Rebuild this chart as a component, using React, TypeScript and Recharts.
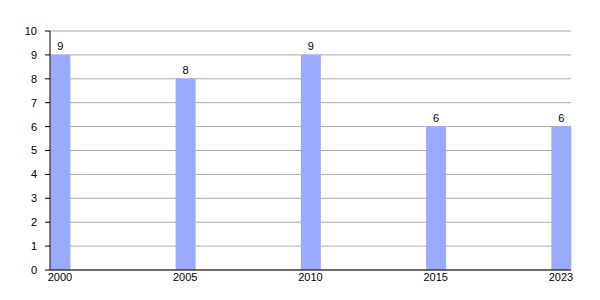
import { Bar, BarChart, CartesianGrid, LabelList, XAxis, YAxis } from "recharts";

const years = ["2000", "2005", "2010", "2015", "2023"];
const counts = [9, 8, 9, 6, 6];
const yTicks = [0, 1, 2, 3, 4, 5, 6, 7, 8, 9, 10];

const data = years.map((year, i) => ({ year, count: counts[i] }));

export default function App() {
  return (
    <div style={{ position: "absolute", left: 0, top: 0, fontFamily: "Liberation Sans, Arial, sans-serif" }}>
      <BarChart
        width={600}
        height={300}
        data={data}
        margin={{ top: 31, right: 29, bottom: 0, left: 0 }}
      >
        <CartesianGrid vertical={false} stroke="#aaaaaa" />
        <XAxis
          dataKey="year"
          scale="point"
          padding={{ left: 10, right: 10 }}
          height={30}
          tickLine={false}
          tickSize={0}
          tickMargin={3}
          axisLine={{ stroke: "#000" }}
          tick={{ fill: "#000", fontSize: 11 }}
        />
        <YAxis
          width={50}
          domain={[0, 10]}
          ticks={yTicks}
          interval={0}
          tickSize={5}
          tickMargin={8}
          axisLine={{ stroke: "#000" }}
          tickLine={{ stroke: "#000" }}
          tick={{ fill: "#000", fontSize: 11 }}
        />
        <Bar dataKey="count" fill="#99aaff" barSize={20} isAnimationActive={false}>
          <LabelList dataKey="count" position="top" offset={5} fill="#000" fontSize={11} />
        </Bar>
      </BarChart>
    </div>
  );
}
